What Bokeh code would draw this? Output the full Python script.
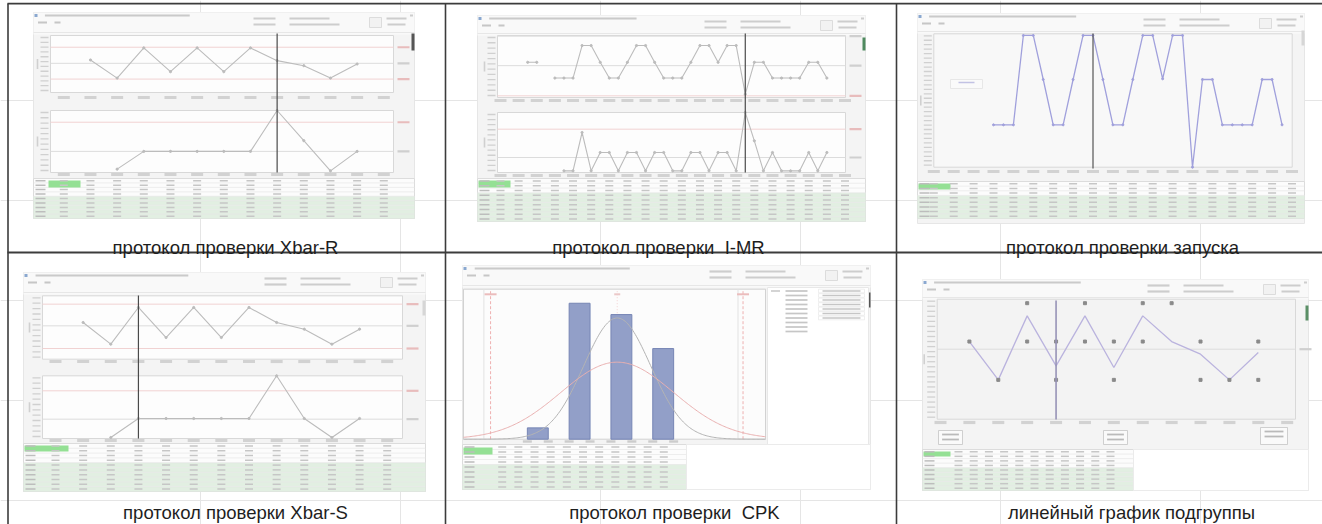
import numpy as np
from bokeh.plotting import figure
from bokeh.models import Range1d
from bokeh.core.properties import value
from bokeh.embed import file_html
from bokeh.resources import INLINE

# ===================== DATA =====================
CAPTIONS_TOP = ["протокол проверки Xbar-R", "протокол проверки\u00a0 I-MR", "протокол проверки запуска"]
CAPTIONS_BOTTOM = ["протокол проверки Xbar-S", "протокол проверки\u00a0 CPK", "линейный график подгруппы"]

# Xbar-R
XR_LABEL_IDX = list(range(1, 14))
XR_MEAN_IDX = list(range(2, 13))
XR_MEAN = [97, 43, 133, 62, 133, 62, 133, 95, 80, 43, 85]
XR_MEAN_LIM = [135, 87, 40]
XR_R_IDX = list(range(3, 13))
XR_R = [10, 63, 63, 63, 63, 63, 185, 95, 5, 63]
XR_R_LIM = [150, 63]
XR_CURSOR = 9

# I-MR
IMR_K = list(range(39))
IMR_I = [None, None, None, 105, 105, None, 58, 58, 58, 155, 155, 105, 58, 58, 105, 155, 155, 105,
         58, 58, 58, 105, 155, 155, 105, 155, 155, 10, 105, 105, 58, 58, 58, 58, 105, 105, 58, None, None]
IMR_MR = [None] * 7 + [5, 5, 120, 5, 60, 60, 5, 60, 60, 5, 60, 60, 5, 5, 60, 60, 5, 60, 60, 5,
                       180, 95, 5, 60, 5, 5, 5, 60, 5, 60, None, None]
IMR_I_LIM = [183, 95, 5]
IMR_MR_LIM = [130, 45]
IMR_LABEL_K = list(range(0, 39, 2))
IMR_CURSOR = 27

# Run chart
RUN_K = list(range(6, 36))
RUN_VALS = [127, 127, 127, 395, 395, 263, 127, 127, 263, 395, 395, 263, 127, 127, 263,
            395, 395, 265, 395, 395, 0, 263, 263, 127, 127, 127, 127, 263, 263, 127]
RUN_LABEL_K = list(range(0, 37, 2))
RUN_CURSOR = 16

# Xbar-S
XS_LABEL_IDX = list(range(1, 14))
XS_MEAN_IDX = list(range(2, 13))
XS_MEAN = [110, 45, 155, 65, 155, 65, 155, 110, 90, 45, 90]
XS_MEAN_LIM = [165, 100, 32]
XS_S_IDX = list(range(3, 13))
XS_S = [3, 60, 60, 60, 60, 60, 188, 60, 3, 60]
XS_S_LIM = [143, 58]
XS_CURSOR = 4

# CPK histogram
CPK_BINS = [1, 2, 3, 4]
CPK_COUNTS = [1, 12, 11, 8]
CPK_EDGES = [0.75, 1.25, 1.75, 2.25, 2.75, 3.25, 3.75, 4.25]
CPK_LSL, CPK_TARGET, CPK_USL = -0.13, 2.9, 5.91
CPK_MU = 2.9
CPK_SIGMA_WITHIN, CPK_PEAK_WITHIN = 0.8, 10.7
CPK_SIGMA_OVERALL, CPK_PEAK_OVERALL = 1.35, 6.8

# Subgroup line chart
SG_LABEL_IDX = list(range(1, 14))
SG_IDX = list(range(2, 13))
SG_MEAN = [233, 118, 310, 160, 310, 155, 310, 233, 195, 118, 200]
SG_PT_IDX = [2, 3, 4, 4, 5, 5, 6, 6, 7, 7, 8, 8, 9, 10, 10, 11, 12, 12]
SG_PT_VAL = [233, 118, 348, 233, 233, 118, 348, 233, 233, 118, 348, 233, 348, 233, 118, 118, 233, 118]
SG_CL = 210
SG_CURSOR = 5

# ===================== FIGURE =====================
W, H = 1322, 524
p = figure(width=W, height=H, x_range=Range1d(0, W), y_range=Range1d(H, 0),
           output_backend="svg", toolbar_location=None, min_border=0,
           x_axis_location=None, y_axis_location=None)
p.outline_line_color = None
p.background_fill_color = "white"
p.border_fill_color = "white"

BLOB = "#d0d0d0"


def box(l, r, t, b, fill, line=None, lw=1):
    p.quad(left=l, right=r, top=t, bottom=b, fill_color=fill, line_color=line, line_width=lw)


def blobs(xs, ys, w, h, color=BLOB):
    p.rect(x=xs, y=ys, width=w, height=h, fill_color=color, line_color=None)


def sub(xs, xt, ys, yt):
    return p.subplot(x_source=Range1d(*xs), y_source=Range1d(*ys),
                     x_target=Range1d(*xt), y_target=Range1d(*yt))


def at(px, xs, xt):
    return xs[0] + (px - xt[0]) * (xs[1] - xs[0]) / (xt[1] - xt[0])


def shot(l, t, r, b, hdr, thumb):
    box(l, r, t, b, "#f4f4f4", "#e6e6e6")
    box(l, r, t, t + hdr, "#f9f9f9")
    w = r - l
    blobs([l + 0.03 * w + 0.19 * w], [t + 3], 0.38 * w, 2.2, "#cacaca")
    blobs([l + 2.5], [t + 3], 3, 3, "#8aa8d0")
    blobs([l + 9, l + 24], [t + 10, t + 10], [9, 6], 2, "#c6c6c6")
    blobs([r - 150, r - 105, r - 150, r - 100], [t + 6, t + 6, t + 12, t + 12],
          [22, 40, 22, 50], 2.2, "#cdcdcd")
    box(r - 45, r - 33, t + 5, t + 15, "#f2f2f2", "#d6d6d6", 0.8)
    blobs([r - 18, r - 18, r - 3], [t + 6, t + 12, t + 3], [20, 18, 3], 2, "#cdcdcd")
    p.segment(x0=l, x1=r, y0=t + hdr - 2, y1=t + hdr - 2, line_color="#e2e2e2", line_width=0.8)
    box(r - 3, r, thumb[0], thumb[1], thumb[2])


def cchart(frame, xs, xt, ymax, idx, vals, lims, lim_cols, color, label_idx, label_y,
           lw=1.1, bg="#fdfdfd", nticks=12, marker=2.2):
    l, r, t, b = frame
    box(l, r, t, b, bg, "#d8d8d8")
    s = sub(xs, xt, (0, ymax), (b, t))
    xa, xb = at(l, xs, xt), at(r, xs, xt)
    if lims:
        s.segment(x0=xa, x1=xb, y0=lims, y1=lims, line_color=lim_cols, line_width=1)
        s.rect(x=at(r + 10, xs, xt), y=lims, width=12, height=2.2, width_units="screen",
               height_units="screen", fill_color=["#e8bcbc" if c != LIMG else "#cfcfcf" for c in lim_cols],
               line_color=None)
    y = np.array(vals, dtype=float)
    s.line(x=idx, y=y, line_color=color, line_width=lw)
    if marker:
        s.scatter(x=idx, y=y, size=marker, color=color)
    yy = list(np.linspace(t + 2, b - 2, nticks))
    blobs([l - 6] * len(yy), yy, 8, 1.3)
    blobs([l - 13], [(t + b) / 2], 1.6, 10)
    ls = sub(xs, xt, (0, 1), (label_y + 2, label_y - 2))
    ls.rect(x=label_idx, y=0.5, width=12, height=3.2, width_units="screen", height_units="screen",
            fill_color="#d2d2d2", line_color=None)
    return s


def cursor(xs, xt, pos, top, bottom, color="#4a4a4a", lw=1.2):
    s = sub(xs, xt, (0, 1), (bottom, top))
    s.segment(x0=pos, x1=pos, y0=0, y1=1, line_color=color, line_width=lw)


def table(l, t, r, b, nrows, green_from, xs, xt, cols, hdr, green_right=None):
    box(l, r, t, b, "#fcfcfc", "#dcdcdc")
    rh = (b - t) / nrows
    gr = r if green_right is None else green_right
    gt = [t + j * rh for j in range(green_from, nrows)]
    p.quad(left=l, right=gr, top=gt, bottom=[g + rh for g in gt], fill_color="#e2efe2", line_color=None)
    ly = [t + j * rh for j in range(1, nrows)]
    p.segment(x0=l, x1=gr, y0=ly, y1=ly, line_color="#e6e6e6", line_width=0.7)
    box(hdr[0], hdr[1], hdr[2], hdr[3], "#94e094")
    blobs([l + 7] * nrows, [t + (j + 0.5) * rh for j in range(nrows)], 10, 1.5, "#bdbdbd")
    s = sub(xs, xt, (0, nrows), (t, b))
    X = [c for j in range(nrows) for c in cols]
    Y = [j + 0.5 for j in range(nrows) for c in cols]
    s.rect(x=X, y=Y, width=8, height=1.5, width_units="screen", height_units="screen",
           fill_color="#c6c6c6", line_color=None)


GRAY_LINE = "#bcbcbc"
LIMG = "#dcdcdc"
LIMR = "#f1d2d2"

# ---------- Panel 1: Xbar-R ----------
shot(33, 12, 414, 218, 22, (33, 50, "#555555"))
xs1, xt1 = (1, 13), (63.3, 383.3)
cchart((50, 393, 35, 92), xs1, xt1, 170, XR_MEAN_IDX, XR_MEAN, XR_MEAN_LIM, [LIMR, LIMG, LIMR],
       GRAY_LINE, XR_LABEL_IDX, 97)
cchart((50, 393, 110, 172), xs1, xt1, 185, XR_R_IDX, XR_R, XR_R_LIM, [LIMR, LIMG],
       GRAY_LINE, XR_LABEL_IDX, 174)
cursor(xs1, xt1, XR_CURSOR, 33, 172)
table(33, 178, 414, 218, 9, 4, xs1, xt1, XR_LABEL_IDX, (48, 80, 180, 187))

# ---------- Panel 2: I-MR ----------
shot(477, 15, 865, 221, 20, (37, 50, "#4f8a5f"))
xs2, xt2 = (0, 38), (500, 844.5)
cchart((497, 845, 35, 97), xs2, xt2, 185, IMR_K, IMR_I, IMR_I_LIM, [LIMG, LIMG, LIMR],
       GRAY_LINE, IMR_LABEL_K, 100)
cchart((497, 845, 112, 172), xs2, xt2, 180, IMR_K, IMR_MR, IMR_MR_LIM, [LIMR, LIMG],
       GRAY_LINE, IMR_LABEL_K, 175)
cursor(xs2, xt2, IMR_CURSOR, 33, 172)
table(477, 178, 865, 221, 9, 3, xs2, xt2, IMR_LABEL_K, (478, 510, 180, 187))

# ---------- Panel 3: run chart ----------
shot(917, 13, 1304, 223, 20, (30, 45, "#d6d6d6"))
xs3, xt3 = (0, 36), (933.3, 1291.5)
cchart((933.3, 1291.7, 33.3, 166.7), xs3, xt3, 400, RUN_K, RUN_VALS, [], [], "#a0a0dc",
       RUN_LABEL_K, 171, lw=1.3, bg="#f8f8f8", nticks=30, marker=2.0)
box(950, 982, 79, 88, "#fafafa", "#e2e2e2", 0.8)
blobs([966], [82], 16, 1.6, "#c2c2e4")
cursor(xs3, xt3, RUN_CURSOR, 33, 168, color="#555555")
table(917, 181, 1304, 218, 8, 3, xs3, xt3, RUN_LABEL_K, (918, 950, 183, 189))

# ---------- Panel 4: Xbar-S ----------
shot(23, 272, 425, 491, 22, (300, 315, "#d6d6d6"))
xs4, xt4 = (1, 13), (55, 386.7)
cchart((42, 402, 295.3, 358.7), xs4, xt4, 190, XS_MEAN_IDX, XS_MEAN, XS_MEAN_LIM, [LIMR, LIMG, LIMR],
       GRAY_LINE, XS_LABEL_IDX, 361)
cchart((42, 402, 375.3, 438), xs4, xt4, 188, XS_S_IDX, XS_S, XS_S_LIM, [LIMR, LIMG],
       GRAY_LINE, XS_LABEL_IDX, 440)
cursor(xs4, xt4, XS_CURSOR, 295, 438)
table(23, 443, 425, 491, 10, 4, xs4, xt4, XS_LABEL_IDX, (24, 68, 445, 451))

# ---------- Panel 5: CPK ----------
shot(462, 265, 870, 489, 22, (292, 307, "#555555"))
box(463, 765, 288.7, 438.7, "#fcfcfc", "#d2d2d2")
box(767, 868, 287, 444, "#ffffff", "#e8e8e8")
xs5, xt5 = (1, 4), (537.3, 662.7)
ytop5 = 13.24
s5 = sub(xs5, xt5, (0, ytop5), (438.7, 288.7))
xa5, xb5 = at(463, xs5, xt5), at(765, xs5, xt5)
s5.segment(x0=[CPK_LSL, CPK_USL], x1=[CPK_LSL, CPK_USL], y0=0, y1=ytop5,
           line_color="#eeb0b0", line_width=1, line_dash="3 2")
s5.segment(x0=[CPK_LSL - 0.16, CPK_USL - 0.12], x1=[CPK_LSL - 0.16, CPK_USL - 0.12], y0=0, y1=ytop5,
           line_color="#e2e2e2", line_width=1)
s5.segment(x0=CPK_TARGET, x1=CPK_TARGET, y0=0, y1=ytop5, line_color="#f3d2d2", line_width=1, line_dash="1 2")
s5.rect(x=[CPK_LSL, CPK_TARGET, CPK_USL], y=ytop5 - 0.45, width=[12, 6, 12], height=2,
        width_units="screen", height_units="screen", fill_color=["#ebbcbc", "#ebc8c8", "#ebbcbc"],
        line_color=None)
s5.vbar(x=CPK_BINS, top=CPK_COUNTS, bottom=0, width=0.5, fill_color="#929fc8", line_color="#7685b4")
xc = np.linspace(xa5, xb5, 240)
s5.line(xc, CPK_PEAK_WITHIN * np.exp(-0.5 * ((xc - CPK_MU) / CPK_SIGMA_WITHIN) ** 2),
        line_color="#b4b4b4", line_width=1)
s5.line(xc, CPK_PEAK_OVERALL * np.exp(-0.5 * ((xc - CPK_MU) / CPK_SIGMA_OVERALL) ** 2),
        line_color="#eab0b0", line_width=1)
ls5 = sub(xs5, xt5, (0, 1), (443, 439))
ls5.rect(x=CPK_EDGES, y=0.5, width=9, height=2.4, width_units="screen", height_units="screen",
         fill_color="#cccccc", line_color=None)
rows5 = list(np.linspace(290.5, 331, 10))
blobs([775], [rows5[0]], 9, 1.8)
blobs([796] * 10, rows5, 22, 1.7, "#c6c6c6")
blobs([841] * 7, rows5[:7], 38, 1.7, "#c6c6c6")
p.quad(left=818, right=864, top=[r - 1.8 for r in rows5[:7]], bottom=[r + 1.8 for r in rows5[:7]],
       fill_color=None, line_color="#e4e4e4", line_width=0.6)
table(462, 444, 686, 489, 9, 4, (0, 10), (501.7, 663.3), list(range(11)), (463, 492, 447, 454))
box(686, 870, 444, 489, "#ffffff", "#ebebeb")

# ---------- Panel 6: subgroup line chart ----------
shot(922, 279, 1308, 490, 20, (305, 320, "#5a8f66"))
xs6, xt6 = (1, 13), (940, 1286.7)
s6 = cchart((936.7, 1295, 298.7, 418.7), xs6, xt6, 360, SG_IDX, SG_MEAN, [SG_CL], [LIMG],
            "#bab3de", SG_LABEL_IDX, 422, lw=1.3, bg="#f3f3f3", nticks=24, marker=0)
s6.scatter(x=SG_PT_IDX, y=SG_PT_VAL, size=3, marker="square", color="#8a8a8a")
cursor(xs6, xt6, SG_CURSOR, 300, 419, color="#9692b6", lw=1.6)
for (bl, br, bt, bb) in [(938, 962, 430, 444), (1103, 1127, 430, 444), (1260, 1287, 427, 444)]:
    box(bl, br, bt, bb, "#fafafa", "#c4c4c4", 0.8)
    blobs([(bl + br) / 2] * 2, [bt + 4, bt + 9], (br - bl) * 0.7, 1.8, "#bababa")
table(922, 449, 1133, 490, 9, 4, (0, 10), (958, 1110), list(range(11)), (923, 950, 451, 456))
box(1133, 1308, 449, 490, "#ffffff", "#ebebeb")

# ---------- grid borders ----------
BORDER = "#3c3c3c"
p.segment(x0=[7.5, 445, 896], x1=[7.5, 445, 896], y0=3, y1=H, line_color=BORDER, line_width=1.6)
p.segment(x0=7, x1=W, y0=[3.2, 252], y1=[3.2, 252], line_color=BORDER, line_width=1.8)

# ---------- captions ----------
p.text(x=[225, 658, 1122], y=246.5, text=CAPTIONS_TOP, text_font=value("Liberation Sans"),
       text_font_size="18.5px", text_align="center", text_baseline="alphabetic", text_color="#1e1e1e")
p.text(x=[235, 674, 1131], y=511.5, text=CAPTIONS_BOTTOM, text_font=value("Liberation Sans"),
       text_font_size="18.5px", text_align="center", text_baseline="alphabetic", text_color="#1e1e1e")

open("out.html", "w").write(file_html(p, INLINE))
